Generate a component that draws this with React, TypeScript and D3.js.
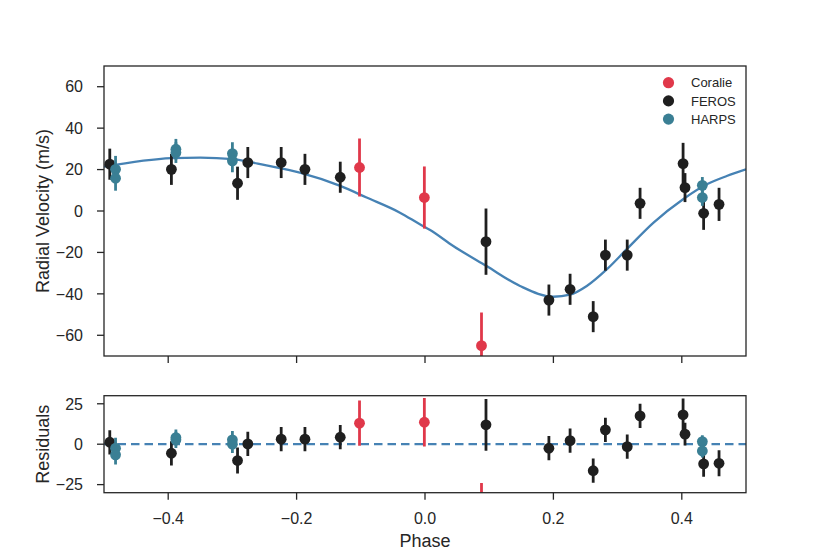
import React, { useEffect } from 'react';
import { scaleLinear, line, curveMonotoneX } from 'd3';

// Coralie
const coraliePhase = [-0.102, -0.001, 0.088];
const coralieRv = [21, 6.5, -65];
const coralieErr = [14, 15, 16];
const coralieRes = [13, 13.6, -40];

// FEROS
const ferosPhase = [-0.491, -0.395, -0.292, -0.276, -0.224, -0.187, -0.132, 0.095, 0.193, 0.226, 0.262, 0.281, 0.315, 0.335, 0.402, 0.405, 0.434, 0.458];
const ferosRv = [22.6, 20.1, 13.4, 23.4, 23.4, 20.1, 16.3, -14.8, -43, -37.8, -51, -21.3, -21.3, 3.7, 22.9, 11.3, -1.1, 3.2];
const ferosErr = [7.5, 7.5, 8, 7.5, 7.5, 7.5, 7.5, 16, 7.5, 7.5, 7.5, 7.5, 7.5, 7.5, 10, 7, 8, 8];
const ferosRes = [1.2, -5.6, -10.1, 0.2, 3.1, 3.1, 4.3, 12, -2.5, 2.2, -16.4, 8.9, -1.5, 17.5, 18.2, 6.2, -12.2, -11.8];

// HARPS
const harpsPhase = [-0.482, -0.482, -0.388, -0.388, -0.3, -0.3, 0.432, 0.432];
const harpsRv = [20.1, 15.8, 29.8, 28.2, 27.7, 24.2, 12.4, 6.5];
const harpsErr = [6.5, 6, 5, 5, 5.5, 5.5, 4, 4];
const harpsRes = [-2.5, -6.6, 4.1, 2.7, 2.7, 0, 1.6, -4.2];

// model curve
const modelPhase = [-0.5, -0.395, -0.35, -0.299, -0.247, -0.195, -0.132, -0.091, -0.039, -0.008, 0.008, 0.044, 0.096, 0.148, 0.2, 0.226, 0.252, 0.283, 0.314, 0.356, 0.402, 0.439, 0.47, 0.5];
const modelRv = [21.4, 25.5, 25.8, 25, 22, 18.5, 12.1, 6.5, -0.8, -6.4, -9.2, -16.9, -26.6, -36.2, -41.4, -40.4, -36.2, -28.2, -18.5, -5.6, 5.7, 12.9, 16.9, 20.1];

const xTicks = [-0.4, -0.2, 0.0, 0.2, 0.4];
const rvTicks = [-60, -40, -20, 0, 20, 40, 60];
const resTicks = [-25, 0, 25];

const COLORS = { Coralie: '#e0384a', FEROS: '#1f1f1f', HARPS: '#3a7f94' };
const LINE = '#4682b4';
const INK = '#262626';
const FONT = '"Liberation Sans", Arial, sans-serif';

const left = 104, right = 746;
const x = scaleLinear().domain([-0.5, 0.5]).range([left, right]);
const yTop = scaleLinear().domain([-70, 70]).range([356, 66]);
const yRes = scaleLinear().domain([-30, 30]).range([492.7, 395.7]);

const fmt = (v: number) => (v < 0 ? '\u2212' : '') + Math.abs(v).toString();
const fmtX = (v: number) => (v < 0 ? '\u2212' : '') + Math.abs(v).toFixed(1);

const series = [
  { name: 'Coralie', phase: coraliePhase, rv: coralieRv, err: coralieErr, res: coralieRes },
  { name: 'FEROS', phase: ferosPhase, rv: ferosRv, err: ferosErr, res: ferosRes },
  { name: 'HARPS', phase: harpsPhase, rv: harpsRv, err: harpsErr, res: harpsRes },
];

function Points({ y, useRes, clip }: { y: any; useRes: boolean; clip: string }) {
  return (
    <g clipPath={`url(#${clip})`}>
      {series.map(s => (
        <g key={s.name} fill={COLORS[s.name]} stroke={COLORS[s.name]}>
          {s.phase.map((p, i) => {
            const v = useRes ? s.res[i] : s.rv[i];
            return (
              <g key={i}>
                <line x1={x(p)} x2={x(p)} y1={y(v - s.err[i])} y2={y(v + s.err[i])} strokeWidth={2.8} />
                <circle cx={x(p)} cy={y(v)} r={5.4} stroke="none" />
              </g>
            );
          })}
        </g>
      ))}
    </g>
  );
}

function YAxis({ y, ticks }: { y: any; ticks: number[] }) {
  return (
    <g>
      {ticks.map(t => (
        <g key={t}>
          <line x1={left - 7} x2={left} y1={y(t)} y2={y(t)} stroke={INK} strokeWidth={1.3} />
          <text x={left - 21} y={y(t)} dy="0.36em" textAnchor="end" fontSize={16} fill={INK}>{fmt(t)}</text>
        </g>
      ))}
    </g>
  );
}

function XTicks({ y0, labels }: { y0: number; labels: boolean }) {
  return (
    <g>
      {xTicks.map(t => (
        <g key={t}>
          <line x1={x(t)} x2={x(t)} y1={y0} y2={y0 + 7} stroke={INK} strokeWidth={1.3} />
          {labels && (
            <text x={x(t)} y={y0 + 31.5} textAnchor="middle" fontSize={16} fill={INK}>{fmtX(t)}</text>
          )}
        </g>
      ))}
    </g>
  );
}

export default function App() {
  useEffect(() => {
    document.body.style.margin = '0';
  }, []);

  const model = line<number>()
    .x((_, i) => x(modelPhase[i]))
    .y(d => yTop(d))
    .curve(curveMonotoneX)(modelRv);

  return (
    <svg width={830} height={554} style={{ display: 'block', background: '#fff' }} fontFamily={FONT}>
      <defs>
        <clipPath id="clipTop">
          <rect x={left} y={66} width={right - left} height={290} />
        </clipPath>
        <clipPath id="clipRes">
          <rect x={left} y={395.7} width={right - left} height={97} />
        </clipPath>
      </defs>

      {/* top panel */}
      <path d={model || ''} fill="none" stroke={LINE} strokeWidth={2.3} clipPath="url(#clipTop)" />
      <Points y={yTop} useRes={false} clip="clipTop" />
      <rect x={left} y={66} width={right - left} height={290} fill="none" stroke={INK} strokeWidth={1.3} />
      <YAxis y={yTop} ticks={rvTicks} />
      <XTicks y0={356} labels={false} />
      <text transform={`translate(48.5,${yTop(0)}) rotate(-90)`} textAnchor="middle" fontSize={18} fill={INK}>
        Radial Velocity (m/s)
      </text>

      {/* legend */}
      {series.map((s, i) => (
        <g key={s.name}>
          <circle cx={668.5} cy={82.7 + i * 18.2} r={5.6} fill={COLORS[s.name]} />
          <text x={691} y={82.7 + i * 18.2} dy="0.36em" fontSize={13} fill={INK}>{s.name}</text>
        </g>
      ))}

      {/* residuals panel */}
      <line x1={left} x2={right} y1={yRes(0)} y2={yRes(0)} stroke={LINE} strokeWidth={2.3} strokeDasharray="8.5,5" />
      <Points y={yRes} useRes={true} clip="clipRes" />
      <rect x={left} y={395.7} width={right - left} height={97} fill="none" stroke={INK} strokeWidth={1.3} />
      <YAxis y={yRes} ticks={resTicks} />
      <XTicks y0={492.7} labels={true} />
      <text transform={`translate(48.5,${yRes(0)}) rotate(-90)`} textAnchor="middle" fontSize={18} fill={INK}>
        Residuals
      </text>
      <text x={x(0)} y={547} textAnchor="middle" fontSize={18} fill={INK}>Phase</text>
    </svg>
  );
}
